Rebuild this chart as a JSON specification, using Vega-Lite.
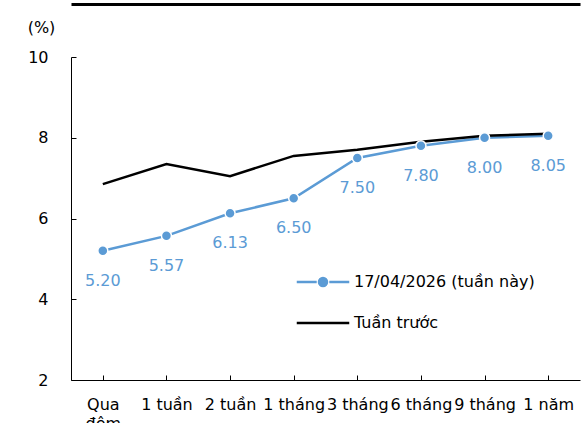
{
  "$schema": "https://vega.github.io/schema/vega-lite/v6.json",
  "width": 509,
  "height": 323,
  "autosize": {"type": "none"},
  "padding": {"left": 71, "top": 57, "right": 4, "bottom": 43},
  "config": {
    "view": {"stroke": null},
    "font": "DejaVu Sans",
    "axis": {"labelFont": "DejaVu Sans", "titleFont": "DejaVu Sans", "labelColor": "#000000", "titleColor": "#000000"}
  },
  "data": {
    "values": [
      {"cat": "Qua đêm", "series": "17/04/2026 (tuần này)", "value": 5.20},
      {"cat": "1 tuần", "series": "17/04/2026 (tuần này)", "value": 5.57},
      {"cat": "2 tuần", "series": "17/04/2026 (tuần này)", "value": 6.13},
      {"cat": "1 tháng", "series": "17/04/2026 (tuần này)", "value": 6.50},
      {"cat": "3 tháng", "series": "17/04/2026 (tuần này)", "value": 7.50},
      {"cat": "6 tháng", "series": "17/04/2026 (tuần này)", "value": 7.80},
      {"cat": "9 tháng", "series": "17/04/2026 (tuần này)", "value": 8.00},
      {"cat": "1 năm", "series": "17/04/2026 (tuần này)", "value": 8.05},
      {"cat": "Qua đêm", "series": "Tuần trước", "value": 6.85},
      {"cat": "1 tuần", "series": "Tuần trước", "value": 7.35},
      {"cat": "2 tuần", "series": "Tuần trước", "value": 7.05},
      {"cat": "1 tháng", "series": "Tuần trước", "value": 7.55},
      {"cat": "3 tháng", "series": "Tuần trước", "value": 7.70},
      {"cat": "6 tháng", "series": "Tuần trước", "value": 7.90},
      {"cat": "9 tháng", "series": "Tuần trước", "value": 8.05},
      {"cat": "1 năm", "series": "Tuần trước", "value": 8.10}
    ]
  },
  "encoding": {
    "y": {
      "field": "value",
      "type": "quantitative",
      "scale": {"domain": [2, 10], "nice": false, "zero": false},
      "axis": {
        "values": [2, 4, 6, 8, 10],
        "title": "(%)",
        "titleAngle": 0,
        "titleX": -30,
        "titleY": -30,
        "titleAlign": "center",
        "titleBaseline": "middle",
        "titleFontWeight": "normal",
        "titleFontSize": 16,
        "labelFontSize": 16,
        "labelPadding": 28,
        "domainColor": "#000000",
        "tickColor": "#000000",
        "tickSize": -5,
        "grid": false
      }
    }
  },
  "resolve": {"axis": {"x": "independent"}},
  "layer": [
    {
      "mark": {"type": "line", "strokeWidth": 2.5},
      "encoding": {
        "x": {
          "field": "cat",
          "type": "ordinal",
          "sort": ["Qua đêm", "1 tuần", "2 tuần", "1 tháng", "3 tháng", "6 tháng", "9 tháng", "1 năm"],
          "scale": {"type": "point", "padding": 0.5},
          "axis": {
            "title": null,
            "labelAngle": 0,
            "labelFontSize": 16,
            "labelOverlap": false,
            "labelExpr": "datum.value == 'Qua đêm' ? ['Qua', 'đêm'] : datum.value",
            "labelLineHeight": 19,
            "labelBaseline": "top",
            "labelPadding": 21,
            "domainColor": "#000000",
            "tickColor": "#000000",
            "tickSize": -5,
            "grid": false
          }
        },
        "color": {
          "field": "series",
          "type": "nominal",
          "scale": {"domain": ["17/04/2026 (tuần này)", "Tuần trước"], "range": ["#5B9BD5", "#000000"]},
          "legend": {
            "title": null,
            "orient": "none",
            "legendX": 240,
            "legendY": 213,
            "padding": 0,
            "labelFont": "DejaVu Sans",
            "labelFontSize": 16,
            "labelColor": "#000000",
            "labelLimit": 400,
            "labelOffset": 19,
            "symbolSize": 441,
            "symbolStrokeWidth": 2.5,
            "rowPadding": 20,
            "encode": {
              "symbols": {
                "update": {
                  "shape": {"signal": "datum.value == 'Tuần trước' ? 'M-2.5,0H2.5' : 'M-2.5,0H-0.6M0.6,0H2.5M-0.38,0A0.38,0.38,0,1,0,0.38,0A0.38,0.38,0,1,0,-0.38,0Z'"},
                  "fill": {"signal": "datum.value == 'Tuần trước' ? 'transparent' : '#5B9BD5'"},
                  "stroke": {"signal": "datum.value == 'Tuần trước' ? '#000000' : '#5B9BD5'"}
                }
              }
            }
          }
        }
      }
    },
    {
      "transform": [{"filter": "datum.series != 'Tuần trước'"}],
      "mark": {"type": "point", "filled": true, "size": 100, "fill": "#5B9BD5", "stroke": "#ffffff", "strokeWidth": 1.5, "opacity": 1},
      "encoding": {
        "x": {
          "field": "cat",
          "type": "ordinal",
          "sort": ["Qua đêm", "1 tuần", "2 tuần", "1 tháng", "3 tháng", "6 tháng", "9 tháng", "1 năm"],
          "scale": {"type": "point", "padding": 0.5},
          "axis": null
        }
      }
    },
    {
      "transform": [{"filter": "datum.series != 'Tuần trước'"}],
      "mark": {"type": "text", "baseline": "top", "dy": 22, "fontSize": 16, "font": "DejaVu Sans", "color": "#5B9BD5"},
      "encoding": {
        "x": {
          "field": "cat",
          "type": "ordinal",
          "sort": ["Qua đêm", "1 tuần", "2 tuần", "1 tháng", "3 tháng", "6 tháng", "9 tháng", "1 năm"],
          "scale": {"type": "point", "padding": 0.5},
          "axis": null
        },
        "text": {"field": "value", "type": "quantitative", "format": ".2f"}
      }
    },
    {
      "mark": {"type": "rule", "opacity": 0},
      "encoding": {
        "x": {
          "field": "cat",
          "type": "ordinal",
          "sort": ["Qua đêm", "1 tuần", "2 tuần", "1 tháng", "3 tháng", "6 tháng", "9 tháng", "1 năm"],
          "scale": {"type": "point", "padding": 0.5},
          "axis": {"orient": "top", "offset": 53, "domainColor": "#000000", "domainWidth": 3, "ticks": false, "labels": false, "title": null, "grid": false}
        },
        "y": {"value": 0}
      }
    }
  ]
}
